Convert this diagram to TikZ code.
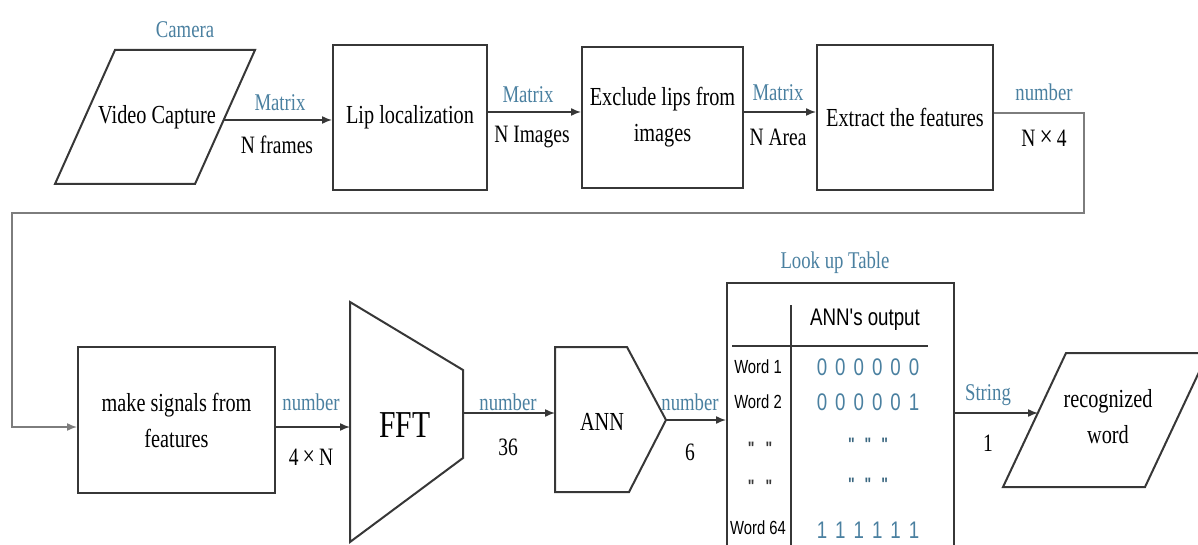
\documentclass[tikz,border=0pt]{standalone}
\usepackage{fontspec}
\setmainfont{Liberation Serif}[FakeStretch=0.78]
\newfontfamily\tabsans{Liberation Sans}[FakeStretch=0.78]
\usetikzlibrary{arrows.meta}
\definecolor{lblue}{RGB}{74,128,160}
\definecolor{lgray}{RGB}{125,125,125}
\definecolor{dline}{RGB}{55,55,55}
\begin{document}
\begin{tikzpicture}[x=1pt,y=-1pt,
  box/.style={draw=dline, line width=2pt, inner sep=0pt, align=center, font=\fontsize{26}{36}\selectfont},
  btext/.style={inner sep=0pt, align=center, font=\fontsize{26}{36}\selectfont},
  conn/.style={draw=dline, line width=1.5pt, -{Latex[length=10pt,width=8pt]}},
  lbl/.style={text=lblue, font=\fontsize{24}{26}\selectfont, inner sep=0pt},
  sub/.style={font=\fontsize{25}{27}\selectfont, inner sep=0pt},
  shp/.style={draw=dline, line width=2pt, line join=miter},
  thin/.style={draw=dline, line width=1.5pt},
  cell/.style={font=\tabsans\fontsize{19}{21}\selectfont, inner sep=0pt},
  bits/.style={font=\tabsans\fontsize{24}{26}\selectfont, text=lblue, inner sep=0pt},
  qm/.style={font=\tabsans\bfseries\fontsize{18}{20}\selectfont, inner sep=0pt}]
\useasboundingbox (0,0) rectangle (1198,545);
\clip (0,0) rectangle (1198,545);

% ---- top row ----
\draw[shp] (115,50) -- (255,50) -- (195,184) -- (55,184) -- cycle;
\node[btext] (vc) at (157,117) {Video Capture};
\node[lbl] (cam) at (185,30) {Camera};
\coordinate (vcout) at (223,120);

\node[box, minimum width=154pt, minimum height=145pt] (lip) at (410,117.5) {Lip localization};
\node[box, minimum width=161pt, minimum height=141pt] (excl) at (662.5,117.5) {Exclude lips from\\images};
\node[box, minimum width=176pt, minimum height=145pt] (ext) at (905,117.5) {Extract the features};

\draw[conn] (vcout) -- (vcout -| lip.west);
\node[lbl] (m1) at (280,103) {Matrix};
\node[sub] (n1) at (277,145) {N frames};

\coordinate (a2) at (487,112);
\draw[conn] (a2 -| lip.east) -- (a2 -| excl.west);
\node[lbl] (m2) at (528,95) {Matrix};
\node[sub] (n2) at (532,137) {N Images};

\coordinate (a3) at (743,112);
\draw[conn] (a3 -| excl.east) -- (a3 -| ext.west);
\node[lbl] (m3) at (778,93) {Matrix};
\node[sub] (n3) at (778,137) {N Area};

% ---- loop connector ----
\coordinate (a4) at (993,113);
\coordinate (c1) at (1084,213);
\coordinate (c2) at (12,427);
\node[lbl] (m4) at (1044,92) {number};
\node[sub] (n4) at (1044,138) {N\,{\fontsize{30}{30}\selectfont\texttimes}\,4};

% ---- bottom row ----
\node[box, minimum width=197pt, minimum height=146pt] (ms) at (176.5,420) {make signals from\\features};
\draw[conn, draw=lgray] (a4 -| ext.east) -| (c1) -| (c2) -- (c2 -| ms.west);

\draw[shp] (350,302) -- (463,370) -- (463,458) -- (350,542) -- cycle;
\node[inner sep=0pt, font=\fontsize{38}{40}\selectfont] (fft) at (405,425) {FFT};
\coordinate (fftL) at (350,427);
\coordinate (fftR) at (463,413);
\draw[conn] (fftL -| ms.east) -- (fftL);
\node[lbl] (m5) at (311,402) {number};
\node[sub] (n5) at (311,457) {4\,{\fontsize{28}{28}\selectfont\texttimes}\,N};

\draw[shp] (555,347) -- (627,347) -- (666,420) -- (629,492) -- (555,492) -- cycle;
\node[btext] (ann) at (602,422) {ANN};
\coordinate (annL) at (555,413);
\coordinate (annR) at (666,420);
\draw[conn] (fftR) -- (annL);
\node[lbl] (m6) at (508,402) {number};
\node[sub] (n6) at (508,447) {36};

% ---- look up table ----
\node[draw=dline, line width=2pt, inner sep=0pt, minimum width=227pt, minimum height=300pt, anchor=north west] (lut) at (726,282) {};
\node[lbl] (lt) at (835,263) {Look up Table};
\draw[conn] (annR) -- (annR -| lut.west);
\node[lbl] (m7) at (690,402) {number};
\node[sub] (n7) at (690,452) {6};

\coordinate (v1) at (791,305);
\coordinate (v2) at (791,560);
\coordinate (h1) at (732,346);
\coordinate (h2) at (928,346);
\draw[thin] (v1) -- (v2);
\draw[thin] (h1) -- (h2);
\node[inner sep=0pt, font=\tabsans\fontsize{24}{26}\selectfont] (hdr) at (865,320) {ANN's output};

\node[cell] (w1) at (758,367) {Word 1};
\node[cell] (w2) at (758,402) {Word 2};
\node[qm, text=dline] (q1) at (760,448) {"\hspace{11pt}"};
\node[qm, text=dline] (q2) at (760,486) {"\hspace{11pt}"};
\node[cell] (w64) at (758,528) {Word 64};

\node[bits] (b1) at (868,367) {0\hspace{8pt}0\hspace{8pt}0\hspace{8pt}0\hspace{8pt}0\hspace{8pt}0};
\node[bits] (b2) at (868,402) {0\hspace{8pt}0\hspace{8pt}0\hspace{8pt}0\hspace{8pt}0\hspace{8pt}1};
\node[qm, text=lblue!80!black] (q3) at (868,444) {"\hspace{10pt}"\hspace{10pt}"};
\node[qm, text=lblue!80!black] (q4) at (868,484) {"\hspace{10pt}"\hspace{10pt}"};
\node[bits] (b64) at (868,530) {1\hspace{8pt}1\hspace{8pt}1\hspace{8pt}1\hspace{8pt}1\hspace{8pt}1};

% ---- output ----
\draw[shp] (1066,353) -- (1208,353) -- (1145,487) -- (1003,487) -- cycle;
\node[btext] (rec) at (1108,417) {recognized\\word};
\coordinate (recL) at (1038,413);
\draw[conn] (recL -| lut.east) -- (recL);
\node[lbl] (m8) at (988,395) {String};
\node[sub] (n8) at (988,443) {1};
\end{tikzpicture}
\end{document}
